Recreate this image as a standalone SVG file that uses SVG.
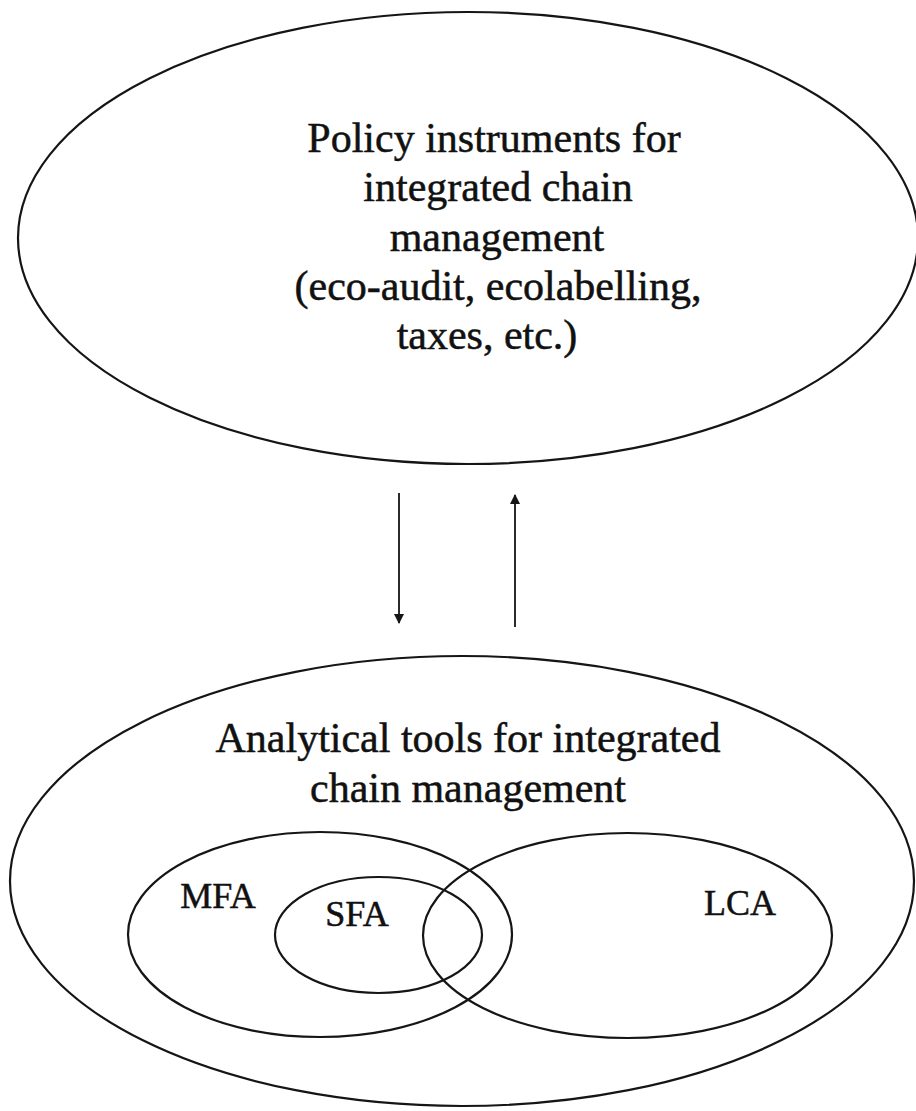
<svg xmlns="http://www.w3.org/2000/svg" width="916" height="1111" viewBox="0 0 916 1111">
  <style>
    .outline { fill: none; stroke: #151515; stroke-width: 2.2; }
    .label { font-family: "Liberation Serif", "Times New Roman", serif; fill: #111; stroke: #111; stroke-width: 0.5; text-anchor: middle; }
    .big { font-size: 42px; }
    .small { font-size: 36px; }
    .link { stroke: #151515; stroke-width: 1.8; fill: none; }
  </style>
  <defs>
    <marker id="head" viewBox="0 0 10 10" refX="9" refY="5" markerWidth="10" markerHeight="10" markerUnits="userSpaceOnUse" orient="auto">
      <path d="M0,0 L10,5 L0,10 z" fill="#151515"/>
    </marker>
  </defs>
  <rect width="916" height="1111" fill="#ffffff"/>

  <!-- upper node: policy instruments -->
  <g id="policy-instruments">
    <ellipse class="outline" cx="468" cy="238" rx="450" ry="226"/>
    <text class="label big" x="494" y="152">Policy instruments for</text>
    <text class="label big" x="498" y="201">integrated chain</text>
    <text class="label big" x="497" y="251">management</text>
    <text class="label big" x="498" y="300">(eco-audit, ecolabelling,</text>
    <text class="label big" x="487" y="349">taxes, etc.)</text>
  </g>

  <!-- lower node: analytical tools -->
  <g id="analytical-tools">
    <ellipse class="outline" cx="462" cy="881" rx="452" ry="225"/>
    <text class="label big" x="468" y="752">Analytical tools for integrated</text>
    <text class="label big" x="468" y="802">chain management</text>
  </g>

  <g id="mfa">
    <ellipse class="outline" cx="320" cy="934.5" rx="192" ry="102.5"/>
    <text class="label small" x="218" y="908">MFA</text>
  </g>

  <g id="sfa">
    <ellipse class="outline" cx="378.5" cy="935" rx="103.5" ry="58"/>
    <text class="label small" x="357" y="926">SFA</text>
  </g>

  <g id="lca">
    <ellipse class="outline" cx="627.5" cy="935.5" rx="204.5" ry="102.5"/>
    <text class="label small" x="740" y="915">LCA</text>
  </g>

  <!-- exchange between policy and analysis -->
  <g id="connectors">
    <line class="link" x1="399" y1="493" x2="399" y2="623" marker-end="url(#head)"/>
    <line class="link" x1="515" y1="627" x2="515" y2="495" marker-end="url(#head)"/>
  </g>
</svg>
